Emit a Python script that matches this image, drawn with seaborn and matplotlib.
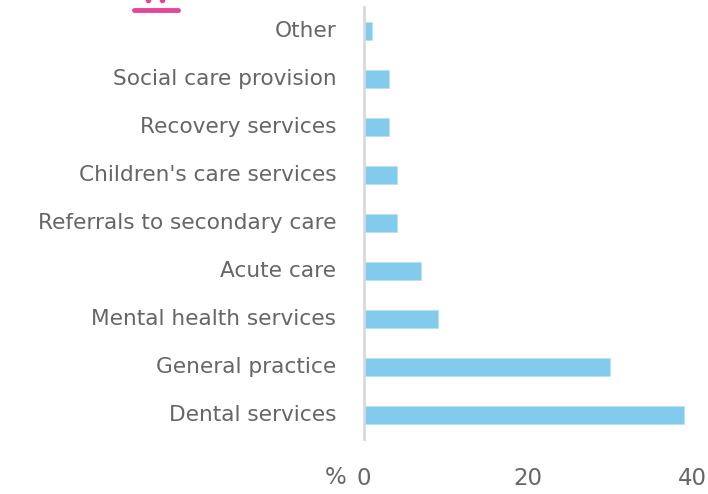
import matplotlib
matplotlib.use("Agg")
import matplotlib.pyplot as plt
import matplotlib.transforms as mtransforms
import seaborn as sns
import pandas as pd
from matplotlib.lines import Line2D

categories = ["Other", "Social care provision", "Recovery services",
              "Children's care services", "Referrals to secondary care",
              "Acute care", "Mental health services", "General practice",
              "Dental services"]
values = [1, 3, 3, 4, 4, 7, 9, 30, 39]
xticks = [0, 20, 40]

df = pd.DataFrame({"category": categories, "value": values})

sns.set_theme(style="white")
plt.rcParams['font.family'] = ['DejaVu Sans']

fig = plt.figure(figsize=(7.08, 4.94), dpi=100)
ax = fig.add_axes([364/708, 1 - 439/494, (692-364)/708, (439-7)/494])

sns.barplot(data=df, x="value", y="category", order=categories, color="#82cbec",
            saturation=1, width=0.36, edgecolor="#b8e2f5", linewidth=0.6, ax=ax)

ax.set_xlim(0, 40)
ax.set_ylim(8.5, -0.5)
ax.set_xticks(xticks)
ax.set_xticklabels([str(t) for t in xticks])
ax.set_xlabel("")
ax.set_ylabel("")
for s in ["top", "right", "bottom"]:
    ax.spines[s].set_visible(False)
ax.spines["left"].set_color("#d9d9d9")
ax.spines["left"].set_linewidth(2)
ax.tick_params(axis="both", length=0)
ax.tick_params(axis="y", labelsize=15.6, labelcolor="#666666", pad=20)
ax.tick_params(axis="x", labelsize=16.5, labelcolor="#666666", pad=20)

shift = mtransforms.ScaledTranslation(0, 2/100, fig.dpi_scale_trans)
for lab in ax.get_yticklabels():
    lab.set_transform(lab.get_transform() + shift)

fig.text(336/708, 1 - 477/494, "%", fontsize=16.5, color="#666666",
         ha="center", va="center")

fig.add_artist(Line2D([134/708, 178/708], [1 - 10/494, 1 - 10/494],
                      color="#e8449a", linewidth=3.5, solid_capstyle="round"))
fig.add_artist(Line2D([148/708], [1 - 0.5/494], marker="o", markersize=3,
                      color="#e8449a", linestyle="none"))
fig.add_artist(Line2D([162/708], [1 - 0.5/494], marker="o", markersize=3,
                      color="#e8449a", linestyle="none"))

fig.savefig("out.png", dpi=100, facecolor="white")
